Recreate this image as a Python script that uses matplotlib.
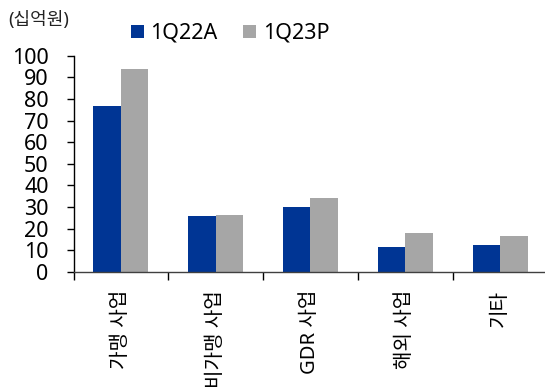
import matplotlib
matplotlib.use("Agg")
import matplotlib.pyplot as plt
import numpy as np
from matplotlib.ticker import FixedLocator

plt.rcParams['font.family'] = ['Noto Sans', 'Noto Sans CJK KR', 'DejaVu Sans']

categories = ["가맹 사업", "비가맹 사업", "GDR 사업", "해외 사업", "기타"]
series_names = ["1Q22A", "1Q23P"]
vals_1q22a = [76.9, 25.7, 29.9, 11.3, 12.4]
vals_1q23p = [93.8, 26.3, 34.1, 17.8, 16.7]
y_ticks = [0, 10, 20, 30, 40, 50, 60, 70, 80, 90, 100]
unit_label = "(십억원)"

BLUE = "#003594"
GRAY = "#A6A6A6"

fig = plt.figure(figsize=(5.45, 3.9), dpi=100)
ax = fig.add_axes([0.1349, 0.3033, 0.8651, 0.5538])

x = np.arange(len(categories))
w = 0.29
ax.bar(x - w / 2, vals_1q22a, width=w, color=BLUE, label=series_names[0], zorder=2)
ax.bar(x + w / 2, vals_1q23p, width=w, color=GRAY, label=series_names[1], zorder=2)

ax.set_xlim(-0.5, 4.474)
ax.set_ylim(0, 100)
ax.set_yticks(y_ticks)
ax.tick_params(axis="y", labelsize=15.5, length=5, width=1, pad=13, direction="out")

# labels sit at group centres, tick marks at the boundaries between groups
ax.set_xticks(x)
ax.set_xticklabels(categories, rotation=90, va="top", ha="center", fontsize=14.5)
ax.tick_params(axis="x", which="major", length=0, pad=13)
ax.xaxis.set_minor_locator(FixedLocator(np.arange(len(categories)) - 0.5))
ax.tick_params(axis="x", which="minor", length=6, width=1, direction="out")

for side in ("top", "right"):
    ax.spines[side].set_visible(False)
ax.spines["left"].set_linewidth(1)
ax.spines["bottom"].set_linewidth(1)
ax.spines["bottom"].set_color("#404040")

fig.text(8 / 545, 1 - 20 / 390, unit_label, fontsize=13, va="center", ha="left", color="#222222")

ax.legend(loc="center left", bbox_to_anchor=(131 / 545, 1 - 33.5 / 390),
          bbox_transform=fig.transFigure, ncol=2, frameon=False, fontsize=15.5,
          handlelength=0.6, handleheight=0.6, handletextpad=0.3,
          columnspacing=1.2, borderpad=0, borderaxespad=0)

fig.savefig("out.png", dpi=100)
